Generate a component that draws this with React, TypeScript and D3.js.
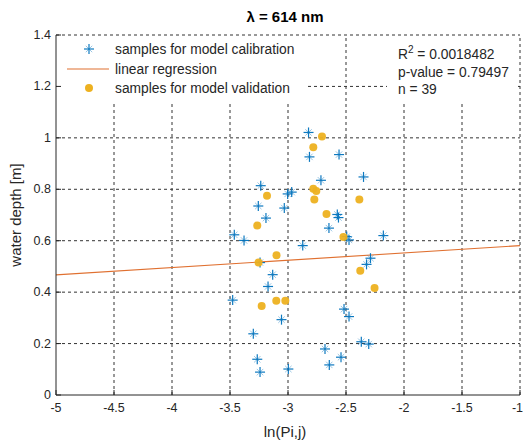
import React from "react";
import * as d3 from "d3";

// Calibration samples: ln(Pi,j) vs water depth [m]
const calibX = [
  -2.823, -2.815, -2.56, -2.349, -2.716, -3.235, -2.968, -3.003, -3.256, -3.032,
  -3.19, -2.575, -2.565, -2.647, -3.463, -3.379, -2.873, -2.494, -2.474, -2.178,
  -2.289, -2.323, -3.241, -3.132, -3.172, -3.477, -3.056, -3.299, -3.265, -3.241,
  -2.997, -2.517, -2.474, -2.368, -2.304, -2.681, -2.543, -2.644,
];
const calibY = [
  1.021, 0.926, 0.935, 0.848, 0.835, 0.814, 0.789, 0.782, 0.735, 0.727,
  0.688, 0.702, 0.69, 0.649, 0.623, 0.601, 0.581, 0.616, 0.603, 0.62,
  0.532, 0.508, 0.515, 0.468, 0.422, 0.369, 0.293, 0.238, 0.139, 0.089,
  0.101, 0.334, 0.305, 0.207, 0.198, 0.179, 0.147, 0.117,
];

// Validation samples
const validX = [
  -2.707, -2.782, -3.181, -2.782, -2.756, -2.773, -2.385, -2.668, -3.265, -2.522,
  -3.099, -3.254, -2.377, -2.254, -3.227, -3.101, -3.023,
];
const validY = [
  1.005, 0.963, 0.775, 0.802, 0.793, 0.76, 0.76, 0.704, 0.659, 0.614,
  0.543, 0.515, 0.483, 0.416, 0.346, 0.367, 0.367,
];

// Fitted regression line y = intercept + slope * x
const regSlope = 0.0285;
const regIntercept = 0.6095;

const xTicks = [-5, -4.5, -4, -3.5, -3, -2.5, -2, -1.5, -1];
const yTicks = [0, 0.2, 0.4, 0.6, 0.8, 1, 1.2, 1.4];

const statsR2 = "0.0018482";
const statsP = "0.79497";
const statsN = 39;

const W = 524;
const H = 441;
const FONT = "'Liberation Sans', Arial, Helvetica, sans-serif";
const TXT = "#262626";
const BLUE = "#0072BD";
const ORANGE = "#E07030";
const YELLOW = "#EDB120";

function Star({ cx, cy }: { cx: number; cy: number }) {
  const a = 5;
  const d = 3.2;
  return (
    <g stroke={BLUE} strokeWidth={1.2} opacity={0.95}>
      <line x1={cx - a} y1={cy} x2={cx + a} y2={cy} />
      <line x1={cx} y1={cy - a} x2={cx} y2={cy + a} />
      <line x1={cx - d} y1={cy - d} x2={cx + d} y2={cy + d} strokeWidth={0.7} opacity={0.6} />
      <line x1={cx - d} y1={cy + d} x2={cx + d} y2={cy - d} strokeWidth={0.7} opacity={0.6} />
    </g>
  );
}

export default function App() {
  const x = d3.scaleLinear().domain([-5, -1]).range([56, 520]);
  const y = d3.scaleLinear().domain([0, 1.4]).range([395, 35]);
  const [x0, x1] = x.range();
  const [yb, yt] = y.range();

  const regLine = d3
    .line<number>()
    .x((v) => x(v))
    .y((v) => y(regIntercept + regSlope * v));

  const fmt = (v: number) => String(+v.toFixed(1));

  return (
    <svg
      width={W}
      height={H}
      style={{ position: "fixed", left: 0, top: 0, background: "#fff" }}
      fontFamily={FONT}
    >
      <rect width={W} height={H} fill="#fff" />

      {/* grid */}
      <g stroke="#333" strokeWidth={1} strokeDasharray="3,3">
        {xTicks.slice(1).map((t) => (
          <line key={"gx" + t} x1={x(t)} x2={x(t)} y1={yb} y2={yt} />
        ))}
        {yTicks.slice(1).map((t) => (
          <line key={"gy" + t} x1={x0} x2={x1} y1={y(t)} y2={y(t)} />
        ))}
      </g>

      {/* legend and statistics backgrounds */}
      <rect x={57} y={37} width={249} height={65} fill="#fff" />
      <rect x={387} y={37} width={131} height={65} fill="#fff" />

      {/* regression */}
      <path d={regLine(x.domain()) || ""} fill="none" stroke={ORANGE} strokeWidth={1.1} />

      {/* calibration samples */}
      {calibX.map((v, i) => (
        <Star key={"c" + i} cx={x(v)} cy={y(calibY[i])} />
      ))}

      {/* validation samples */}
      {validX.map((v, i) => (
        <circle key={"v" + i} cx={x(v)} cy={y(validY[i])} r={4} fill={YELLOW} opacity={0.95} />
      ))}

      {/* axes */}
      <g stroke="#262626" strokeWidth={1}>
        <line x1={x0} x2={x0} y1={yb} y2={yt} />
        <line x1={x0} x2={x1} y1={yb} y2={yb} />
        {xTicks.map((t) => (
          <line key={"tx" + t} x1={x(t)} x2={x(t)} y1={yb} y2={yb - 5} />
        ))}
        {yTicks.map((t) => (
          <line key={"ty" + t} x1={x0} x2={x0 + 5} y1={y(t)} y2={y(t)} />
        ))}
      </g>

      {/* tick labels; the last one is kept inside the canvas */}
      <g fontSize={12.5} fill={TXT}>
        {xTicks.map((t) => {
          const px = x(t);
          const atEdge = px + 8 > W;
          return (
            <text
              key={"lx" + t}
              x={atEdge ? W - 1 : px}
              y={yb + 17}
              textAnchor={atEdge ? "end" : "middle"}
            >
              {fmt(t)}
            </text>
          );
        })}
        {yTicks.map((t) => (
          <text key={"ly" + t} x={x0 - 5} y={y(t) + 4} textAnchor="end">
            {fmt(t)}
          </text>
        ))}
      </g>

      {/* axis labels and title */}
      <text x={285} y={437} textAnchor="middle" fontSize={15} fill={TXT}>
        ln(Pi,j)
      </text>
      <text
        transform={`translate(21,${(yb + yt) / 2}) rotate(-90)`}
        textAnchor="middle"
        fontSize={15}
        fill={TXT}
      >
        water depth [m]
      </text>
      <text x={285} y={22} textAnchor="middle" fontSize={15} fontWeight="bold" fill="#000">
        λ = 614 nm
      </text>

      {/* legend */}
      <Star cx={89} cy={49} />
      <line x1={67} x2={109} y1={69} y2={69} stroke={ORANGE} strokeWidth={1.1} />
      <circle cx={89} cy={88} r={4} fill={YELLOW} />
      <g fontSize={13.8} fill={TXT}>
        <text x={115} y={54}>samples for model calibration</text>
        <text x={115} y={74}>linear regression</text>
        <text x={115} y={93}>samples for model validation</text>
      </g>

      {/* statistics */}
      <g fontSize={13.8} fill={TXT}>
        <text x={398} y={59}>
          R<tspan dy={-6} fontSize={10}>2</tspan>
          <tspan dy={6}> = {statsR2}</tspan>
        </text>
        <text x={398} y={77}>p-value = {statsP}</text>
        <text x={398} y={94}>n = {statsN}</text>
      </g>
    </svg>
  );
}
